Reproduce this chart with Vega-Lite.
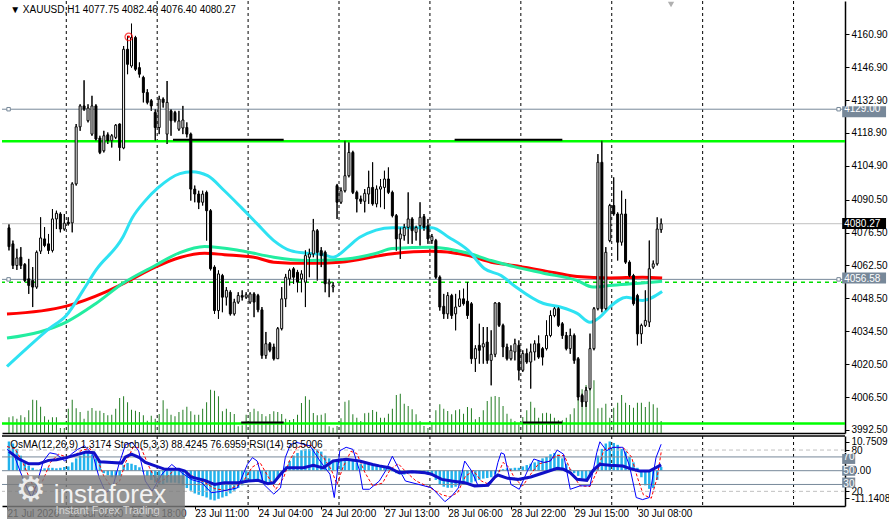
{
  "$schema": "https://vega.github.io/schema/vega-lite/v6.json",
  "description": "XAUUSD H1 candlestick chart with moving averages, volume and OsMA/Stoch/RSI sub-window.",
  "padding": 0,
  "background": "white",
  "spacing": 0,
  "config": {"view": {"stroke": null}, "font": "Liberation Sans", "text": {"font": "Liberation Sans"}},
  "datasets": {
    "c": [
      {"i":0,"o":4078.5,"h":4080.0,"l":4068.9,"c":4070.5,"v":392,"m":10.7},
      {"i":1,"o":4071.7,"h":4073.1,"l":4061.0,"c":4062.5,"v":418,"m":10.0},
      {"i":2,"o":4062.5,"h":4069.6,"l":4060.6,"c":4065.7,"v":358,"m":8.0},
      {"i":3,"o":4066.0,"h":4070.3,"l":4061.0,"c":4062.5,"v":442,"m":5.5},
      {"i":4,"o":4062.9,"h":4063.5,"l":4055.4,"c":4056.1,"v":392,"m":3.0},
      {"i":5,"o":4056.8,"h":4065.3,"l":4050.4,"c":4054.0,"v":568,"m":1.8},
      {"i":6,"o":4056.1,"h":4061.8,"l":4044.8,"c":4053.3,"v":832,"m":1.0},
      {"i":7,"o":4053.3,"h":4068.8,"l":4052.6,"c":4068.1,"v":818,"m":0.3},
      {"i":8,"o":4068.6,"h":4083.0,"l":4067.4,"c":4074.2,"v":658,"m":0.5},
      {"i":9,"o":4073.8,"h":4078.8,"l":4070.3,"c":4071.0,"v":418,"m":0.8},
      {"i":10,"o":4071.7,"h":4075.9,"l":4067.4,"c":4068.9,"v":332,"m":1.0},
      {"i":11,"o":4068.9,"h":4086.5,"l":4068.1,"c":4082.3,"v":392,"m":1.0},
      {"i":12,"o":4082.3,"h":4085.8,"l":4078.0,"c":4084.7,"v":392,"m":0.8},
      {"i":13,"o":4084.4,"h":4085.1,"l":4076.6,"c":4078.0,"v":125,"m":1.0},
      {"i":14,"o":4078.0,"h":4084.4,"l":4077.3,"c":4080.5,"v":125,"m":1.3},
      {"i":15,"o":4080.9,"h":4083.0,"l":4079.5,"c":4080.2,"v":608,"m":1.5},
      {"i":16,"o":4080.6,"h":4097.9,"l":4076.6,"c":4097.2,"v":832,"m":3.0},
      {"i":17,"o":4097.2,"h":4122.7,"l":4096.5,"c":4121.5,"v":618,"m":4.5},
      {"i":18,"o":4121.5,"h":4131.1,"l":4119.8,"c":4130.4,"v":525,"m":5.5},
      {"i":19,"o":4130.4,"h":4141.3,"l":4128.3,"c":4129.0,"v":358,"m":6.2},
      {"i":20,"o":4124.1,"h":4131.1,"l":4123.4,"c":4129.5,"v":558,"m":6.5},
      {"i":21,"o":4118.4,"h":4134.7,"l":4117.7,"c":4130.4,"v":625,"m":6.0},
      {"i":22,"o":4130.4,"h":4131.1,"l":4115.6,"c":4116.3,"v":558,"m":4.5},
      {"i":23,"o":4116.7,"h":4117.7,"l":4109.9,"c":4110.6,"v":558,"m":3.0},
      {"i":24,"o":4111.3,"h":4119.8,"l":4110.6,"c":4117.7,"v":500,"m":-1.0},
      {"i":25,"o":4118.1,"h":4119.1,"l":4114.2,"c":4115.6,"v":442,"m":-1.8},
      {"i":26,"o":4115.6,"h":4118.4,"l":4112.7,"c":4117.7,"v":458,"m":-2.5},
      {"i":27,"o":4117.0,"h":4122.7,"l":4116.3,"c":4122.2,"v":608,"m":-2.5},
      {"i":28,"o":4122.7,"h":4122.9,"l":4107.1,"c":4112.7,"v":875,"m":-2.0},
      {"i":29,"o":4112.5,"h":4155.9,"l":4112.0,"c":4154.5,"v":918,"m":2.0},
      {"i":30,"o":4154.5,"h":4160.2,"l":4143.9,"c":4148.1,"v":768,"m":2.8},
      {"i":31,"o":4147.4,"h":4165.4,"l":4146.7,"c":4159.5,"v":582,"m":2.5},
      {"i":32,"o":4159.5,"h":4160.2,"l":4145.3,"c":4146.0,"v":558,"m":2.0},
      {"i":33,"o":4146.7,"h":4148.9,"l":4142.5,"c":4143.9,"v":525,"m":1.2},
      {"i":34,"o":4142.5,"h":4143.2,"l":4131.9,"c":4136.1,"v":442,"m":-0.5},
      {"i":35,"o":4136.1,"h":4137.5,"l":4131.1,"c":4131.9,"v":308,"m":-2.0},
      {"i":36,"o":4132.6,"h":4133.3,"l":4128.3,"c":4130.4,"v":432,"m":-3.5},
      {"i":37,"o":4127.6,"h":4129.0,"l":4115.6,"c":4121.2,"v":358,"m":-4.5},
      {"i":38,"o":4121.2,"h":4134.7,"l":4118.4,"c":4133.3,"v":475,"m":-5.0},
      {"i":39,"o":4133.3,"h":4134.0,"l":4129.7,"c":4131.9,"v":818,"m":-5.0},
      {"i":40,"o":4118.4,"h":4141.0,"l":4114.2,"c":4131.9,"v":608,"m":-4.5},
      {"i":41,"o":4128.3,"h":4129.0,"l":4117.7,"c":4124.1,"v":458,"m":-4.5},
      {"i":42,"o":4127.6,"h":4128.3,"l":4123.4,"c":4124.1,"v":418,"m":-4.5},
      {"i":43,"o":4120.5,"h":4128.3,"l":4119.8,"c":4124.0,"v":525,"m":-4.8},
      {"i":44,"o":4121.0,"h":4130.4,"l":4118.4,"c":4124.4,"v":582,"m":-5.5},
      {"i":45,"o":4121.2,"h":4123.4,"l":4117.0,"c":4118.4,"v":658,"m":-6.5},
      {"i":46,"o":4118.4,"h":4119.0,"l":4090.1,"c":4095.0,"v":542,"m":-7.5},
      {"i":47,"o":4095.0,"h":4096.5,"l":4089.4,"c":4092.9,"v":458,"m":-8.5},
      {"i":48,"o":4092.9,"h":4094.3,"l":4086.5,"c":4089.4,"v":458,"m":-9.0},
      {"i":49,"o":4089.4,"h":4094.3,"l":4088.0,"c":4092.9,"v":608,"m":-9.5},
      {"i":50,"o":4093.6,"h":4094.3,"l":4073.1,"c":4085.8,"v":768,"m":-10.0},
      {"i":51,"o":4085.8,"h":4086.5,"l":4060.4,"c":4061.1,"v":1082,"m":-10.8},
      {"i":52,"o":4061.8,"h":4062.5,"l":4041.9,"c":4043.3,"v":1058,"m":-11.1},
      {"i":53,"o":4043.3,"h":4060.4,"l":4039.8,"c":4058.9,"v":918,"m":-10.5},
      {"i":54,"o":4058.2,"h":4058.9,"l":4042.6,"c":4049.0,"v":542,"m":-10.0},
      {"i":55,"o":4049.0,"h":4053.3,"l":4045.5,"c":4051.9,"v":608,"m":-9.5},
      {"i":56,"o":4051.1,"h":4051.9,"l":4041.2,"c":4041.9,"v":525,"m":-8.5},
      {"i":57,"o":4041.9,"h":4048.3,"l":4041.2,"c":4046.9,"v":475,"m":-7.5},
      {"i":58,"o":4046.9,"h":4051.1,"l":4046.2,"c":4049.7,"v":168,"m":-6.5},
      {"i":59,"o":4049.7,"h":4051.9,"l":4047.6,"c":4049.0,"v":192,"m":-5.5},
      {"i":60,"o":4049.0,"h":4051.1,"l":4048.3,"c":4050.0,"v":458,"m":-4.5},
      {"i":61,"o":4046.9,"h":4051.1,"l":4046.2,"c":4050.4,"v":525,"m":-3.8},
      {"i":62,"o":4050.4,"h":4051.1,"l":4040.5,"c":4046.9,"v":608,"m":-3.5},
      {"i":63,"o":4049.7,"h":4050.4,"l":4042.6,"c":4043.6,"v":542,"m":-3.5},
      {"i":64,"o":4043.6,"h":4044.8,"l":4022.8,"c":4024.2,"v":475,"m":-4.5},
      {"i":65,"o":4024.2,"h":4034.2,"l":4022.8,"c":4029.2,"v":418,"m":-5.0},
      {"i":66,"o":4029.2,"h":4029.9,"l":4025.6,"c":4026.4,"v":475,"m":-4.8},
      {"i":67,"o":4027.8,"h":4029.2,"l":4022.1,"c":4022.8,"v":542,"m":-4.5},
      {"i":68,"o":4022.8,"h":4036.3,"l":4022.8,"c":4035.6,"v":525,"m":-3.0},
      {"i":69,"o":4035.6,"h":4053.3,"l":4034.9,"c":4048.3,"v":475,"m":-1.5},
      {"i":70,"o":4048.3,"h":4058.9,"l":4044.8,"c":4057.5,"v":358,"m":1.5},
      {"i":71,"o":4056.8,"h":4061.1,"l":4054.0,"c":4060.4,"v":325,"m":3.5},
      {"i":72,"o":4061.1,"h":4061.8,"l":4054.7,"c":4057.5,"v":350,"m":5.5},
      {"i":73,"o":4059.6,"h":4060.6,"l":4051.1,"c":4055.4,"v":458,"m":6.5},
      {"i":74,"o":4056.8,"h":4060.4,"l":4051.1,"c":4058.9,"v":750,"m":7.5},
      {"i":75,"o":4055.4,"h":4068.9,"l":4044.8,"c":4066.7,"v":918,"m":8.0},
      {"i":76,"o":4066.0,"h":4069.6,"l":4057.5,"c":4067.4,"v":832,"m":8.0},
      {"i":77,"o":4067.4,"h":4082.3,"l":4066.0,"c":4077.3,"v":500,"m":8.2},
      {"i":78,"o":4077.3,"h":4078.0,"l":4056.1,"c":4068.1,"v":442,"m":7.8},
      {"i":79,"o":4068.8,"h":4070.3,"l":4061.8,"c":4066.7,"v":458,"m":7.0},
      {"i":80,"o":4068.1,"h":4068.8,"l":4051.1,"c":4054.7,"v":492,"m":5.5},
      {"i":81,"o":4054.7,"h":4056.8,"l":4049.0,"c":4055.4,"v":168,"m":4.5},
      {"i":82,"o":4053.3,"h":4055.4,"l":4051.1,"c":4054.0,"v":132,"m":3.5},
      {"i":83,"o":4096.5,"h":4097.2,"l":4082.3,"c":4089.4,"v":175,"m":4.3},
      {"i":84,"o":4089.4,"h":4095.7,"l":4088.7,"c":4094.3,"v":368,"m":4.5},
      {"i":85,"o":4094.3,"h":4115.6,"l":4093.6,"c":4100.7,"v":782,"m":4.0},
      {"i":86,"o":4100.7,"h":4114.9,"l":4100.0,"c":4110.6,"v":818,"m":3.8},
      {"i":87,"o":4110.6,"h":4111.3,"l":4092.9,"c":4093.6,"v":468,"m":3.5},
      {"i":88,"o":4093.6,"h":4094.3,"l":4085.1,"c":4090.8,"v":382,"m":3.0},
      {"i":89,"o":4090.8,"h":4092.2,"l":4088.7,"c":4089.8,"v":300,"m":2.5},
      {"i":90,"o":4089.8,"h":4095.0,"l":4085.1,"c":4093.2,"v":492,"m":2.5},
      {"i":91,"o":4092.9,"h":4102.8,"l":4088.7,"c":4095.7,"v":508,"m":2.8},
      {"i":92,"o":4095.7,"h":4106.4,"l":4088.0,"c":4088.7,"v":575,"m":2.5},
      {"i":93,"o":4088.7,"h":4096.5,"l":4087.3,"c":4095.0,"v":532,"m":2.0},
      {"i":94,"o":4095.0,"h":4099.3,"l":4087.3,"c":4096.0,"v":382,"m":1.8},
      {"i":95,"o":4095.7,"h":4102.8,"l":4086.5,"c":4099.3,"v":382,"m":1.5},
      {"i":96,"o":4099.3,"h":4104.2,"l":4092.9,"c":4093.6,"v":482,"m":0.5},
      {"i":97,"o":4093.6,"h":4094.3,"l":4083.0,"c":4083.7,"v":608,"m":-0.3},
      {"i":98,"o":4083.7,"h":4084.4,"l":4068.8,"c":4073.8,"v":950,"m":-1.0},
      {"i":99,"o":4073.8,"h":4078.7,"l":4065.3,"c":4075.9,"v":982,"m":-1.5},
      {"i":100,"o":4075.2,"h":4080.2,"l":4073.1,"c":4078.7,"v":732,"m":-1.5},
      {"i":101,"o":4078.7,"h":4093.6,"l":4071.7,"c":4082.3,"v":675,"m":-1.2},
      {"i":102,"o":4082.3,"h":4083.0,"l":4071.7,"c":4077.3,"v":592,"m":-1.0},
      {"i":103,"o":4076.6,"h":4079.4,"l":4073.1,"c":4078.7,"v":468,"m":-1.0},
      {"i":104,"o":4079.4,"h":4089.4,"l":4071.0,"c":4083.0,"v":300,"m":-0.8},
      {"i":105,"o":4083.3,"h":4084.4,"l":4077.3,"c":4078.7,"v":175,"m":-1.0},
      {"i":106,"o":4079.4,"h":4082.3,"l":4071.7,"c":4073.8,"v":125,"m":-1.5},
      {"i":107,"o":4073.1,"h":4075.9,"l":4071.7,"c":4074.8,"v":218,"m":-2.0},
      {"i":108,"o":4073.1,"h":4073.8,"l":4056.8,"c":4057.5,"v":568,"m":-3.5},
      {"i":109,"o":4057.5,"h":4058.2,"l":4043.3,"c":4044.8,"v":718,"m":-5.0},
      {"i":110,"o":4045.1,"h":4050.4,"l":4039.8,"c":4041.9,"v":608,"m":-6.0},
      {"i":111,"o":4041.9,"h":4051.1,"l":4039.8,"c":4049.7,"v":550,"m":-6.4},
      {"i":112,"o":4049.7,"h":4050.4,"l":4039.8,"c":4041.2,"v":468,"m":-6.4},
      {"i":113,"o":4041.9,"h":4050.4,"l":4034.9,"c":4044.8,"v":568,"m":-6.0},
      {"i":114,"o":4045.1,"h":4051.9,"l":4044.8,"c":4048.3,"v":592,"m":-5.5},
      {"i":115,"o":4048.3,"h":4052.6,"l":4045.5,"c":4046.2,"v":482,"m":-5.0},
      {"i":116,"o":4047.3,"h":4055.4,"l":4039.8,"c":4041.2,"v":650,"m":-4.8},
      {"i":117,"o":4046.2,"h":4046.9,"l":4020.7,"c":4022.8,"v":618,"m":-4.5},
      {"i":118,"o":4022.8,"h":4028.5,"l":4017.2,"c":4027.1,"v":342,"m":-4.0},
      {"i":119,"o":4028.5,"h":4037.7,"l":4020.7,"c":4026.4,"v":400,"m":-3.5},
      {"i":120,"o":4027.8,"h":4036.3,"l":4020.7,"c":4029.2,"v":568,"m":-3.0},
      {"i":121,"o":4029.9,"h":4036.3,"l":4020.7,"c":4022.1,"v":800,"m":-2.8},
      {"i":122,"o":4022.1,"h":4034.9,"l":4011.5,"c":4024.7,"v":908,"m":-2.5},
      {"i":123,"o":4024.7,"h":4046.9,"l":4023.5,"c":4046.5,"v":925,"m":-1.5},
      {"i":124,"o":4046.5,"h":4046.9,"l":4036.3,"c":4037.0,"v":900,"m":-0.5},
      {"i":125,"o":4037.0,"h":4037.7,"l":4023.5,"c":4027.8,"v":675,"m":0.5},
      {"i":126,"o":4027.8,"h":4029.2,"l":4022.1,"c":4022.8,"v":482,"m":0.8},
      {"i":127,"o":4022.8,"h":4028.5,"l":4022.1,"c":4026.4,"v":358,"m":0.8},
      {"i":128,"o":4025.7,"h":4031.3,"l":4022.1,"c":4029.2,"v":300,"m":1.0},
      {"i":129,"o":4028.5,"h":4030.6,"l":4013.6,"c":4017.9,"v":218,"m":1.0},
      {"i":130,"o":4017.9,"h":4026.4,"l":4017.2,"c":4025.0,"v":400,"m":1.5},
      {"i":131,"o":4025.0,"h":4027.1,"l":4020.7,"c":4021.4,"v":568,"m":2.0},
      {"i":132,"o":4021.4,"h":4029.2,"l":4010.1,"c":4025.7,"v":782,"m":2.5},
      {"i":133,"o":4025.7,"h":4030.6,"l":4022.1,"c":4029.2,"v":632,"m":3.0},
      {"i":134,"o":4029.2,"h":4032.7,"l":4022.8,"c":4023.5,"v":382,"m":3.5},
      {"i":135,"o":4027.1,"h":4027.8,"l":4020.0,"c":4023.5,"v":492,"m":4.5},
      {"i":136,"o":4027.1,"h":4039.1,"l":4026.4,"c":4032.7,"v":508,"m":5.0},
      {"i":137,"o":4032.7,"h":4043.3,"l":4032.0,"c":4041.2,"v":482,"m":6.0},
      {"i":138,"o":4041.2,"h":4044.8,"l":4040.5,"c":4044.1,"v":382,"m":6.5},
      {"i":139,"o":4044.1,"h":4044.8,"l":4036.3,"c":4037.0,"v":318,"m":6.0},
      {"i":140,"o":4037.7,"h":4038.4,"l":4031.3,"c":4032.7,"v":318,"m":4.5},
      {"i":141,"o":4032.7,"h":4034.2,"l":4026.4,"c":4027.1,"v":382,"m":2.5},
      {"i":142,"o":4027.1,"h":4035.6,"l":4024.9,"c":4032.7,"v":468,"m":0.5},
      {"i":143,"o":4032.7,"h":4033.5,"l":4020.7,"c":4022.1,"v":618,"m":-1.0},
      {"i":144,"o":4022.8,"h":4023.5,"l":4005.1,"c":4006.5,"v":842,"m":-2.0},
      {"i":145,"o":4007.2,"h":4007.9,"l":4002.3,"c":4004.4,"v":1092,"m":-3.0},
      {"i":146,"o":4004.4,"h":4010.8,"l":4002.3,"c":4009.4,"v":1200,"m":-3.5},
      {"i":147,"o":4010.1,"h":4033.5,"l":4009.4,"c":4027.1,"v":1342,"m":-2.5},
      {"i":148,"o":4027.1,"h":4044.8,"l":4026.4,"c":4044.1,"v":1318,"m":-0.5},
      {"i":149,"o":4044.1,"h":4109.9,"l":4043.4,"c":4106.4,"v":618,"m":5.5},
      {"i":150,"o":4106.4,"h":4115.6,"l":4042.6,"c":4044.1,"v":632,"m":8.0},
      {"i":151,"o":4044.1,"h":4070.3,"l":4043.4,"c":4068.1,"v":732,"m":10.0},
      {"i":152,"o":4073.1,"h":4088.7,"l":4072.4,"c":4088.0,"v":382,"m":10.75},
      {"i":153,"o":4088.0,"h":4100.0,"l":4083.7,"c":4084.4,"v":632,"m":10.2},
      {"i":154,"o":4084.4,"h":4085.1,"l":4064.6,"c":4072.4,"v":758,"m":9.5},
      {"i":155,"o":4072.4,"h":4094.3,"l":4071.0,"c":4084.4,"v":950,"m":8.0},
      {"i":156,"o":4084.4,"h":4090.8,"l":4063.2,"c":4063.9,"v":758,"m":7.0},
      {"i":157,"o":4063.9,"h":4064.6,"l":4057.5,"c":4058.2,"v":700,"m":5.0},
      {"i":158,"o":4058.2,"h":4058.9,"l":4045.5,"c":4046.2,"v":632,"m":3.0},
      {"i":159,"o":4049.7,"h":4050.4,"l":4028.5,"c":4033.4,"v":758,"m":1.0},
      {"i":160,"o":4033.4,"h":4037.7,"l":4029.2,"c":4037.0,"v":758,"m":-2.5},
      {"i":161,"o":4037.0,"h":4051.9,"l":4036.3,"c":4039.1,"v":650,"m":-5.5},
      {"i":162,"o":4038.4,"h":4073.1,"l":4036.3,"c":4061.1,"v":782,"m":-6.8},
      {"i":163,"o":4061.8,"h":4064.6,"l":4061.1,"c":4063.2,"v":718,"m":-6.5},
      {"i":164,"o":4063.2,"h":4083.0,"l":4062.5,"c":4078.0,"v":632,"m":-3.5},
      {"i":165,"o":4077.75,"h":4082.46,"l":4076.40,"c":4080.27,"v":300,"m":1.3174}
    ],
    "red": [
      {"i":-0.5,"p":4041.8},{"i":14.5,"p":4045.2},{"i":24.5,"p":4051.3},{"i":29.5,"p":4055.3},{"i":37,"p":4061.8},
      {"i":43.25,"p":4065.9},{"i":49.5,"p":4067.7},{"i":54.5,"p":4067.1},{"i":62,"p":4066.0},{"i":67,"p":4063.9},
      {"i":75.25,"p":4063.4},{"i":83.75,"p":4063.9},{"i":97,"p":4067.5},{"i":107,"p":4068.5},{"i":116.25,"p":4066.7},
      {"i":122,"p":4063.9},{"i":127.75,"p":4062.5},{"i":135.25,"p":4060.3},{"i":143.75,"p":4057.8},{"i":152,"p":4057.2},
      {"i":160.25,"p":4057.5},{"i":165.25,"p":4057.2}
    ],
    "grn": [
      {"i":-0.5,"p":4031.6},{"i":7.75,"p":4034.2},{"i":14.5,"p":4038.4},{"i":22,"p":4046.3},{"i":28.75,"p":4054.8},
      {"i":37,"p":4062.5},{"i":43.25,"p":4068.0},{"i":49.5,"p":4070.6},{"i":58.75,"p":4068.8},{"i":67,"p":4066.0},
      {"i":75.25,"p":4064.6},{"i":83.75,"p":4065.0},{"i":92.75,"p":4067.6},{"i":97,"p":4069.7},{"i":107,"p":4070.3},
      {"i":116.25,"p":4067.7},{"i":122,"p":4064.6},{"i":127.75,"p":4062.0},{"i":135.25,"p":4059.2},{"i":143.75,"p":4056.1},
      {"i":147.75,"p":4053.3},{"i":152,"p":4054.0},{"i":160.25,"p":4055.0},{"i":165.25,"p":4055.8}
    ],
    "cyn": [
      {"i":-0.5,"p":4019.5},{"i":4.5,"p":4027.2},{"i":10.25,"p":4035.7},{"i":14.5,"p":4041.2},{"i":18.75,"p":4051.9},
      {"i":22,"p":4060.5},{"i":28.75,"p":4074.4},{"i":31.25,"p":4082.9},{"i":34.5,"p":4090.1},{"i":37.75,"p":4095.6},
      {"i":43.25,"p":4101.6},{"i":46.25,"p":4102.4},{"i":50.25,"p":4100.7},{"i":54.5,"p":4094.3},{"i":58.75,"p":4087.2},
      {"i":62.75,"p":4080.3},{"i":67,"p":4073.1},{"i":71.25,"p":4068.8},{"i":75.25,"p":4067.7},{"i":79.5,"p":4067.1},
      {"i":82,"p":4066.0},{"i":85.75,"p":4070.3},{"i":88.75,"p":4074.5},{"i":97,"p":4078.6},{"i":107,"p":4078.6},
      {"i":111.25,"p":4074.5},{"i":116.25,"p":4068.8},{"i":120.25,"p":4061.2},{"i":124.5,"p":4058.2},{"i":127.75,"p":4054.0},
      {"i":135.25,"p":4046.3},{"i":139.5,"p":4044.8},{"i":143.75,"p":4042.1},{"i":147,"p":4038.3},{"i":149.5,"p":4040.5},
      {"i":152,"p":4044.8},{"i":156.25,"p":4049.0},{"i":160.25,"p":4047.6},{"i":165.25,"p":4051.4}
    ],
    "rsi": [
      {"i":0,"v":78},{"i":2.5,"v":67},{"i":5,"v":60},{"i":7.5,"v":60},{"i":10,"v":65},{"i":12,"v":66},{"i":14.5,"v":69},
      {"i":17,"v":73},{"i":19.5,"v":77},{"i":21.5,"v":76},{"i":23,"v":63},{"i":26,"v":62},{"i":28.5,"v":61},{"i":29.5,"v":70},
      {"i":31,"v":74},{"i":33,"v":69},{"i":34.5,"v":62},{"i":37,"v":57},{"i":39.5,"v":52},{"i":43,"v":52},{"i":44.5,"v":49.5},
      {"i":46,"v":41},{"i":49.5,"v":36},{"i":52,"v":30},{"i":54.5,"v":32.6},{"i":58,"v":32.6},{"i":60.5,"v":35},{"i":63,"v":36},
      {"i":65.5,"v":31},{"i":67,"v":32.6},{"i":68.7,"v":44.7},{"i":70.3,"v":54.4},{"i":74.5,"v":54.4},{"i":77,"v":58},
      {"i":79.5,"v":54},{"i":82,"v":64},{"i":85.3,"v":66.5},{"i":88.7,"v":64},{"i":92,"v":59},{"i":93.7,"v":57},
      {"i":96.2,"v":54.4},{"i":98.7,"v":47},{"i":102,"v":48.6},{"i":105.3,"v":47},{"i":107,"v":44.7},{"i":109.5,"v":37.4},
      {"i":112,"v":35},{"i":115.3,"v":32.6},{"i":117.8,"v":27.7},{"i":121.2,"v":28.7},{"i":122.8,"v":39.9},{"i":123.7,"v":43.7},
      {"i":126.2,"v":38.9},{"i":128.7,"v":37.4},{"i":132,"v":40.8},{"i":135.3,"v":47},{"i":138.7,"v":53.4},{"i":140.3,"v":52},
      {"i":142,"v":47},{"i":143.7,"v":37.4},{"i":146.2,"v":36},{"i":147.8,"v":50.5},{"i":149.5,"v":59.2},{"i":152,"v":57.8},
      {"i":155.3,"v":56.8},{"i":157,"v":53.4},{"i":159.5,"v":49.5},{"i":162,"v":49.5},{"i":163.7,"v":54.4},{"i":165,"v":58.5}
    ],
    "stm": [
      {"i":-0.5,"v":81},{"i":1.2,"v":74},{"i":2.8,"v":49.5},{"i":4.5,"v":25},{"i":5.75,"v":11},{"i":7,"v":30},{"i":8.7,"v":64},
      {"i":10.3,"v":76},{"i":12,"v":74},{"i":14.1,"v":64},{"i":15.75,"v":74},{"i":17.4,"v":81},{"i":19.1,"v":86},{"i":21.2,"v":74},
      {"i":22.8,"v":40},{"i":24.5,"v":18},{"i":26.2,"v":25},{"i":27.8,"v":59},{"i":29.5,"v":88},{"i":31.2,"v":91},{"i":32.8,"v":79},
      {"i":34.5,"v":35},{"i":36.2,"v":20},{"i":38.7,"v":45},{"i":41.2,"v":59},{"i":43.7,"v":47},{"i":46.2,"v":37},{"i":48.7,"v":33},
      {"i":51.2,"v":18},{"i":53.7,"v":20},{"i":57.8,"v":25},{"i":60.3,"v":59},{"i":61.6,"v":69},{"i":62.8,"v":64},{"i":64.5,"v":30},
      {"i":67,"v":16},{"i":68.7,"v":25},{"i":69.9,"v":69},{"i":71.2,"v":88},{"i":72.8,"v":91},{"i":76.2,"v":86},{"i":78.7,"v":64},
      {"i":81.2,"v":45},{"i":82.3,"v":11},{"i":83.7,"v":79},{"i":85.3,"v":84},{"i":87,"v":81},{"i":88.7,"v":50},{"i":89.5,"v":23},
      {"i":91.2,"v":23},{"i":93.7,"v":35},{"i":95.3,"v":50},{"i":97,"v":71},{"i":98.7,"v":52},{"i":100.3,"v":35},{"i":103.7,"v":30},
      {"i":107,"v":25},{"i":110.3,"v":5},{"i":112,"v":13},{"i":113.7,"v":25},{"i":115.3,"v":64},{"i":117,"v":50},{"i":118.7,"v":28},
      {"i":120.3,"v":28},{"i":122.8,"v":40},{"i":123.7,"v":62},{"i":124.5,"v":76},{"i":125.3,"v":74},{"i":127,"v":30},
      {"i":129.1,"v":23},{"i":131.2,"v":50},{"i":132.8,"v":67},{"i":135.3,"v":62},{"i":137,"v":64},{"i":138.7,"v":80},
      {"i":140.3,"v":74},{"i":142,"v":23},{"i":144.5,"v":28},{"i":147,"v":28},{"i":148.7,"v":76},{"i":149.5,"v":92},
      {"i":151.2,"v":79},{"i":152.8,"v":84},{"i":155.3,"v":84},{"i":157,"v":57},{"i":158.7,"v":11},{"i":160.3,"v":8},
      {"i":162,"v":11},{"i":163.7,"v":69},{"i":165,"v":88.4}
    ],
    "sts": [
      {"i":-0.5,"v":85},{"i":1.5,"v":82},{"i":3.5,"v":62},{"i":5.5,"v":35},{"i":7,"v":18},{"i":8.5,"v":35},{"i":10.5,"v":62},
      {"i":12.5,"v":74},{"i":14.5,"v":70},{"i":16.5,"v":72},{"i":18.5,"v":80},{"i":20.5,"v":82},{"i":22.5,"v":65},{"i":24,"v":42},
      {"i":26,"v":26},{"i":28,"v":35},{"i":29.5,"v":62},{"i":31.5,"v":85},{"i":33.5,"v":82},{"i":35.5,"v":55},{"i":37.5,"v":32},
      {"i":39.5,"v":38},{"i":42,"v":52},{"i":44.5,"v":50},{"i":47,"v":40},{"i":49.5,"v":33},{"i":52,"v":24},{"i":55,"v":21},
      {"i":59,"v":32},{"i":61.5,"v":55},{"i":63.5,"v":62},{"i":65.5,"v":42},{"i":67.5,"v":23},{"i":69.5,"v":40},{"i":71,"v":65},
      {"i":73,"v":85},{"i":76.5,"v":87},{"i":79.5,"v":70},{"i":81.5,"v":52},{"i":83,"v":30},{"i":84.5,"v":55},{"i":86.5,"v":78},
      {"i":88,"v":75},{"i":90,"v":48},{"i":92,"v":28},{"i":94.5,"v":32},{"i":96.5,"v":52},{"i":98.5,"v":60},{"i":100.5,"v":48},
      {"i":103,"v":35},{"i":106,"v":27},{"i":109.5,"v":15},{"i":111.5,"v":12},{"i":113.5,"v":18},{"i":115.5,"v":42},{"i":117.5,"v":50},
      {"i":119.5,"v":35},{"i":121.5,"v":30},{"i":123.5,"v":42},{"i":125,"v":62},{"i":126.5,"v":55},{"i":128,"v":38},{"i":130,"v":28},
      {"i":132,"v":45},{"i":134,"v":60},{"i":136.5,"v":63},{"i":138.5,"v":72},{"i":140.5,"v":72},{"i":142.5,"v":45},{"i":144.5,"v":28},
      {"i":147,"v":27},{"i":149,"v":52},{"i":150.5,"v":80},{"i":152.5,"v":84},{"i":155.5,"v":83},{"i":157.5,"v":70},{"i":159,"v":40},
      {"i":160.5,"v":15},{"i":162.5,"v":10},{"i":164,"v":40},{"i":165,"v":76.7}
    ],
    "days": [{"i":14.5},{"i":37.5},{"i":60.5},{"i":83.5},{"i":106.5},{"i":129.5},{"i":152.5},{"i":175.5},{"i":198.5}],
    "seg": [
      {"i":41.5,"j":69.5,"p":4116.0},{"i":112.75,"j":140,"p":4116.0},
      {"i":58.75,"j":69.5,"p":3995.7},{"i":130,"j":140,"p":3995.7}
    ],
    "sq": [
      {"i":-0.1,"p":4129.0},{"i":209.9,"p":4129.0},{"i":-0.1,"p":4056.58},{"i":209.9,"p":4056.58}
    ],
    "box": [
      {"p":4129.0,"t":"4129.00"},{"p":4080.27,"t":"4080.27"},{"p":4056.58,"t":"4056.58"}
    ],
    "lvl": [{"v":70,"t":"70"},{"v":50,"t":"50"},{"v":30,"t":"30"}],
    "one": [{}]
  },
  "vconcat": [
    {
      "width": 843,
      "height": 432,
      "resolve": {"scale": {"y": "independent"}, "axis": {"x": "independent"}},
      "layer": [
        {
          "data": {"name": "days"},
          "mark": {"type": "rule", "color": "black", "strokeDash": [3, 3], "strokeWidth": 1},
          "encoding": {
            "x": {"field": "i", "type": "quantitative", "scale": {"domain": [-0.5, 210.25], "nice": false, "zero": false},
              "axis": {"orient": "bottom", "labels": false, "ticks": false, "domain": true, "domainColor": "black", "domainWidth": 1.5, "grid": false, "title": null}}
          }
        },
        {
          "data": {"name": "c"},
          "mark": {"type": "bar", "size": 1, "color": "#237d23", "orient": "vertical"},
          "encoding": {
            "x": {"field": "i", "type": "quantitative", "scale": {"domain": [-0.5, 210.25], "nice": false, "zero": false}, "axis": null},
            "y": {"field": "v", "type": "quantitative", "scale": {"domain": [0, 10800], "nice": false}, "axis": null}
          }
        },
        {
          "data": {"name": "c"},
          "mark": {"type": "rule", "color": "black", "strokeWidth": 1},
          "encoding": {
            "x": {"field": "i", "type": "quantitative", "scale": {"domain": [-0.5, 210.25], "nice": false, "zero": false}, "axis": null},
            "y": {"field": "l", "type": "quantitative", "scale": {"domain": [3991.2, 4175.05], "nice": false, "zero": false},
              "axis": {"orient": "right", "title": null, "grid": false,
                "values": [3992.5, 4006.5, 4020.5, 4034.5, 4048.5, 4062.5, 4076.5, 4090.5, 4104.9, 4118.9, 4132.9, 4146.9, 4160.9],
                "format": ".2f", "domainColor": "black", "domainWidth": 1.5, "tickColor": "black", "tickSize": 4,
                "labelColor": "black", "labelFontSize": 10, "labelPadding": 2,
                "labelBaseline": "middle", "labelOverlap": false, "labelFlush": false}},
            "y2": {"field": "h"}
          }
        },
        {
          "data": {"name": "one"},
          "mark": {"type": "rule", "color": "#c0c0c0", "strokeWidth": 1},
          "encoding": {"y": {"datum": 4080.27, "type": "quantitative", "scale": {"domain": [3991.2, 4175.05], "nice": false, "zero": false}, "axis": null}}
        },
        {
          "data": {"name": "one"},
          "mark": {"type": "rule", "color": "#778899", "strokeWidth": 1},
          "encoding": {"y": {"datum": 4129.0, "type": "quantitative", "scale": {"domain": [3991.2, 4175.05], "nice": false, "zero": false}, "axis": null}}
        },
        {
          "data": {"name": "one"},
          "mark": {"type": "rule", "color": "#778899", "strokeWidth": 1},
          "encoding": {"y": {"datum": 4056.58, "type": "quantitative", "scale": {"domain": [3991.2, 4175.05], "nice": false, "zero": false}, "axis": null}}
        },
        {
          "data": {"name": "one"},
          "mark": {"type": "rule", "color": "#00dd00", "strokeWidth": 1.5, "strokeDash": [4, 4]},
          "encoding": {"y": {"datum": 4055.4, "type": "quantitative", "scale": {"domain": [3991.2, 4175.05], "nice": false, "zero": false}, "axis": null}}
        },
        {
          "data": {"name": "one"},
          "mark": {"type": "rule", "color": "#00ff00", "strokeWidth": 2.5},
          "encoding": {"y": {"datum": 4115.4, "type": "quantitative", "scale": {"domain": [3991.2, 4175.05], "nice": false, "zero": false}, "axis": null}}
        },
        {
          "data": {"name": "one"},
          "mark": {"type": "rule", "color": "#00ff00", "strokeWidth": 2.5},
          "encoding": {"y": {"datum": 3995.2, "type": "quantitative", "scale": {"domain": [3991.2, 4175.05], "nice": false, "zero": false}, "axis": null}}
        },
        {
          "data": {"name": "red"},
          "mark": {"type": "line", "color": "#ff0000", "strokeWidth": 3, "interpolate": "monotone"},
          "encoding": {
            "x": {"field": "i", "type": "quantitative", "scale": {"domain": [-0.5, 210.25], "nice": false, "zero": false}, "axis": null},
            "y": {"field": "p", "type": "quantitative", "scale": {"domain": [3991.2, 4175.05], "nice": false, "zero": false}, "axis": null}
          }
        },
        {
          "data": {"name": "grn"},
          "mark": {"type": "line", "color": "#22eda0", "strokeWidth": 3, "interpolate": "monotone"},
          "encoding": {
            "x": {"field": "i", "type": "quantitative", "scale": {"domain": [-0.5, 210.25], "nice": false, "zero": false}, "axis": null},
            "y": {"field": "p", "type": "quantitative", "scale": {"domain": [3991.2, 4175.05], "nice": false, "zero": false}, "axis": null}
          }
        },
        {
          "data": {"name": "cyn"},
          "mark": {"type": "line", "color": "#2ee2f2", "strokeWidth": 3, "interpolate": "monotone"},
          "encoding": {
            "x": {"field": "i", "type": "quantitative", "scale": {"domain": [-0.5, 210.25], "nice": false, "zero": false}, "axis": null},
            "y": {"field": "p", "type": "quantitative", "scale": {"domain": [3991.2, 4175.05], "nice": false, "zero": false}, "axis": null}
          }
        },
        {
          "data": {"name": "seg"},
          "mark": {"type": "rule", "color": "black", "strokeWidth": 2},
          "encoding": {
            "x": {"field": "i", "type": "quantitative", "scale": {"domain": [-0.5, 210.25], "nice": false, "zero": false}, "axis": null},
            "x2": {"field": "j"},
            "y": {"field": "p", "type": "quantitative", "scale": {"domain": [3991.2, 4175.05], "nice": false, "zero": false}, "axis": null}
          }
        },
        {
          "data": {"name": "c"},
          "mark": {"type": "rule", "color": "black", "strokeWidth": 1},
          "encoding": {
            "x": {"field": "i", "type": "quantitative", "scale": {"domain": [-0.5, 210.25], "nice": false, "zero": false}, "axis": null},
            "y": {"field": "l", "type": "quantitative", "scale": {"domain": [3991.2, 4175.05], "nice": false, "zero": false}, "axis": null},
            "y2": {"field": "h"}
          }
        },
        {
          "data": {"name": "c"},
          "mark": {"type": "bar", "size": 2, "stroke": "black", "strokeWidth": 1, "orient": "vertical"},
          "encoding": {
            "x": {"field": "i", "type": "quantitative", "scale": {"domain": [-0.5, 210.25], "nice": false, "zero": false}, "axis": null},
            "y": {"field": "o", "type": "quantitative", "scale": {"domain": [3991.2, 4175.05], "nice": false, "zero": false}, "axis": null},
            "y2": {"field": "c"},
            "fill": {"condition": {"test": "datum.c >= datum.o", "value": "white"}, "value": "black"}
          }
        },
        {
          "data": {"name": "one"},
          "mark": {"type": "point", "shape": "circle", "size": 55, "stroke": "#ff0000", "strokeWidth": 1.3, "filled": false},
          "encoding": {
            "x": {"datum": 30.3, "type": "quantitative", "scale": {"domain": [-0.5, 210.25], "nice": false, "zero": false}, "axis": null},
            "y": {"datum": 4159.8, "type": "quantitative", "scale": {"domain": [3991.2, 4175.05], "nice": false, "zero": false}, "axis": null}
          }
        },
        {
          "data": {"name": "one"},
          "mark": {"type": "point", "shape": "circle", "size": 6, "fill": "#ff0000", "filled": true, "opacity": 1},
          "encoding": {
            "x": {"datum": 30.3, "type": "quantitative", "scale": {"domain": [-0.5, 210.25], "nice": false, "zero": false}, "axis": null},
            "y": {"datum": 4159.8, "type": "quantitative", "scale": {"domain": [3991.2, 4175.05], "nice": false, "zero": false}, "axis": null}
          }
        },
        {
          "data": {"name": "sq"},
          "mark": {"type": "point", "shape": "square", "size": 12, "stroke": "#778899", "fill": "white", "filled": true, "strokeWidth": 1, "opacity": 1},
          "encoding": {
            "x": {"field": "i", "type": "quantitative", "scale": {"domain": [-0.5, 210.25], "nice": false, "zero": false}, "axis": null},
            "y": {"field": "p", "type": "quantitative", "scale": {"domain": [3991.2, 4175.05], "nice": false, "zero": false}, "axis": null}
          }
        },
        {
          "data": {"name": "one"},
          "mark": {"type": "point", "shape": "triangle-down", "size": 40, "fill": "#b0b0b0", "filled": true, "opacity": 1},
          "encoding": {
            "x": {"datum": 167.5, "type": "quantitative", "scale": {"domain": [-0.5, 210.25], "nice": false, "zero": false}, "axis": null},
            "y": {"datum": 4173.6, "type": "quantitative", "scale": {"domain": [3991.2, 4175.05], "nice": false, "zero": false}, "axis": null}
          }
        },
        {
          "data": {"name": "one"},
          "mark": {"type": "text", "align": "left", "baseline": "middle", "fontSize": 10, "color": "black",
            "text": "▼ XAUUSD,H1  4077.75 4082.46 4076.40 4080.27"},
          "encoding": {
            "x": {"datum": 0.3, "type": "quantitative", "scale": {"domain": [-0.5, 210.25], "nice": false, "zero": false}, "axis": null},
            "y": {"datum": 4171.2, "type": "quantitative", "scale": {"domain": [3991.2, 4175.05], "nice": false, "zero": false}, "axis": null}
          }
        },
        {
          "data": {"name": "box"},
          "mark": {"type": "bar", "size": 11, "orient": "horizontal"},
          "encoding": {
            "x": {"datum": 210.8, "type": "quantitative", "scale": {"domain": [-0.5, 210.25], "nice": false, "zero": false}, "axis": null},
            "x2": {"datum": 221.9},
            "y": {"field": "p", "type": "quantitative", "scale": {"domain": [3991.2, 4175.05], "nice": false, "zero": false}, "axis": null},
            "fill": {"condition": {"test": "datum.t == '4080.27'", "value": "black"}, "value": "#778899"}
          }
        },
        {
          "data": {"name": "box"},
          "mark": {"type": "text", "align": "left", "baseline": "middle", "fontSize": 10, "color": "white"},
          "encoding": {
            "x": {"datum": 211.3, "type": "quantitative", "scale": {"domain": [-0.5, 210.25], "nice": false, "zero": false}, "axis": null},
            "y": {"field": "p", "type": "quantitative", "scale": {"domain": [3991.2, 4175.05], "nice": false, "zero": false}, "axis": null},
            "text": {"field": "t"}
          }
        }
      ]
    },
    {
      "width": 843,
      "height": 70,
      "resolve": {"scale": {"y": "independent"}, "axis": {"x": "independent"}},
      "layer": [
        {
          "data": {"name": "days"},
          "mark": {"type": "rule", "color": "black", "strokeDash": [3, 3], "strokeWidth": 1},
          "encoding": {
            "x": {"field": "i", "type": "quantitative", "scale": {"domain": [-0.5, 210.25], "nice": false, "zero": false},
              "axis": {"orient": "bottom", "title": null, "grid": false,
                "values": [-0.5, 15, 31, 47, 63, 79, 95, 111, 127, 143, 159],
                "labelExpr": "['21 Jul 2026','22 Jul 02:00','22 Jul 18:00','23 Jul 11:00','24 Jul 04:00','24 Jul 20:00','27 Jul 13:00','28 Jul 06:00','28 Jul 22:00','29 Jul 15:00','30 Jul 08:00'][indexof([-0.5,15,31,47,63,79,95,111,127,143,159], datum.value)]",
                "labelAlign": "left", "labelBaseline": "top", "labelPadding": -1, "labelFontSize": 10, "labelColor": "black",
                "labelOverlap": false, "labelFlush": false,
                "tickSize": 3, "tickColor": "black", "domainColor": "black", "domainWidth": 1.5}}
          }
        },
        {
          "data": {"name": "c"},
          "mark": {"type": "bar", "size": 2.5, "color": "#22b2ec", "orient": "vertical"},
          "encoding": {
            "x": {"field": "i", "type": "quantitative", "scale": {"domain": [-0.5, 210.25], "nice": false, "zero": false}, "axis": null},
            "y": {"field": "m", "type": "quantitative", "scale": {"domain": [-13.15, 12.78], "nice": false}, "axis": null},
            "y2": {"datum": 0}
          }
        },
        {
          "data": {"values": [{"v": 80}, {"v": 20}]},
          "mark": {"type": "rule", "color": "#c0c0c0", "strokeWidth": 1, "strokeDash": [4, 3]},
          "encoding": {"y": {"field": "v", "type": "quantitative", "scale": {"domain": [-1.3, 100.4], "nice": false, "zero": false},
            "axis": {"orient": "right", "title": null, "grid": false,
              "values": [91.7, 80, 50, 20, 10.3],
              "labelExpr": "datum.value > 90 ? '10.7509' : datum.value < 15 ? '-11.1408' : datum.value == 50 ? '0.00' : datum.label",
              "domainColor": "black", "domainWidth": 1.5, "tickColor": "black", "tickSize": 4,
              "labelColor": "black", "labelFontSize": 10, "labelPadding": 2,
              "labelBaseline": "middle", "labelOverlap": false, "labelFlush": false}}}
        },
        {
          "data": {"name": "one"},
          "mark": {"type": "rule", "color": "black", "strokeWidth": 1.5},
          "encoding": {"y": {"datum": 100.4, "type": "quantitative", "scale": {"domain": [-1.3, 100.4], "nice": false, "zero": false}, "axis": null}}
        },
        {
          "data": {"name": "lvl"},
          "mark": {"type": "rule", "color": "#778899", "strokeWidth": 1},
          "encoding": {"y": {"field": "v", "type": "quantitative", "scale": {"domain": [-1.3, 100.4], "nice": false, "zero": false}, "axis": null}}
        },
        {
          "data": {"name": "sts"},
          "mark": {"type": "line", "color": "#ff0000", "strokeWidth": 1, "strokeDash": [3, 2]},
          "encoding": {
            "x": {"field": "i", "type": "quantitative", "scale": {"domain": [-0.5, 210.25], "nice": false, "zero": false}, "axis": null},
            "y": {"field": "v", "type": "quantitative", "scale": {"domain": [-1.3, 100.4], "nice": false, "zero": false}, "axis": null}
          }
        },
        {
          "data": {"name": "stm"},
          "mark": {"type": "line", "color": "#0000ff", "strokeWidth": 1},
          "encoding": {
            "x": {"field": "i", "type": "quantitative", "scale": {"domain": [-0.5, 210.25], "nice": false, "zero": false}, "axis": null},
            "y": {"field": "v", "type": "quantitative", "scale": {"domain": [-1.3, 100.4], "nice": false, "zero": false}, "axis": null}
          }
        },
        {
          "data": {"name": "rsi"},
          "mark": {"type": "line", "color": "#1010c8", "strokeWidth": 3},
          "encoding": {
            "x": {"field": "i", "type": "quantitative", "scale": {"domain": [-0.5, 210.25], "nice": false, "zero": false}, "axis": null},
            "y": {"field": "v", "type": "quantitative", "scale": {"domain": [-1.3, 100.4], "nice": false, "zero": false}, "axis": null}
          }
        },
        {
          "data": {"name": "one"},
          "mark": {"type": "text", "align": "left", "baseline": "middle", "fontSize": 10, "color": "black",
            "text": "OsMA(12,26,9) 1.3174  Stoch(5,3,3) 88.4245 76.6959  RSI(14) 58.5006"},
          "encoding": {
            "x": {"datum": 0.3, "type": "quantitative", "scale": {"domain": [-0.5, 210.25], "nice": false, "zero": false}, "axis": null},
            "y": {"datum": 87.4, "type": "quantitative", "scale": {"domain": [-1.3, 100.4], "nice": false, "zero": false}, "axis": null}
          }
        },
        {
          "data": {"name": "lvl"},
          "mark": {"type": "bar", "size": 10, "orient": "horizontal", "color": "#778899"},
          "encoding": {
            "x": {"datum": 210.8, "type": "quantitative", "scale": {"domain": [-0.5, 210.25], "nice": false, "zero": false}, "axis": null},
            "x2": {"datum": 214.1},
            "y": {"field": "v", "type": "quantitative", "scale": {"domain": [-1.3, 100.4], "nice": false, "zero": false}, "axis": null}
          }
        },
        {
          "data": {"name": "lvl"},
          "mark": {"type": "text", "align": "left", "baseline": "middle", "fontSize": 10, "color": "white"},
          "encoding": {
            "x": {"datum": 211.1, "type": "quantitative", "scale": {"domain": [-0.5, 210.25], "nice": false, "zero": false}, "axis": null},
            "y": {"field": "v", "type": "quantitative", "scale": {"domain": [-1.3, 100.4], "nice": false, "zero": false}, "axis": null},
            "text": {"field": "t"}
          }
        },
        {
          "data": {"name": "one"},
          "mark": {"type": "rect", "fill": "#7c7c7c", "opacity": 0.82},
          "encoding": {
            "x": {"datum": -0.5, "type": "quantitative", "scale": {"domain": [-0.5, 210.25], "nice": false, "zero": false}, "axis": null},
            "x2": {"datum": 44.5},
            "y": {"datum": 43.5, "type": "quantitative", "scale": {"domain": [-1.3, 100.4], "nice": false, "zero": false}, "axis": null},
            "y2": {"datum": -21.0}
          }
        },
        {
          "data": {"name": "one"},
          "mark": {"type": "text", "align": "center", "baseline": "middle", "fontSize": 34, "color": "#ececec", "font": "DejaVu Sans", "text": "⚙"},
          "encoding": {
            "x": {"datum": 5.5, "type": "quantitative", "scale": {"domain": [-0.5, 210.25], "nice": false, "zero": false}, "axis": null},
            "y": {"datum": 20.5, "type": "quantitative", "scale": {"domain": [-1.3, 100.4], "nice": false, "zero": false}, "axis": null}
          }
        },
        {
          "data": {"name": "one"},
          "mark": {"type": "text", "align": "left", "baseline": "alphabetic", "fontSize": 26, "color": "#f2f2f2", "text": "instaforex"},
          "encoding": {
            "x": {"datum": 11.3, "type": "quantitative", "scale": {"domain": [-0.5, 210.25], "nice": false, "zero": false}, "axis": null},
            "y": {"datum": 3.5, "type": "quantitative", "scale": {"domain": [-1.3, 100.4], "nice": false, "zero": false}, "axis": null}
          }
        },
        {
          "data": {"name": "one"},
          "mark": {"type": "text", "align": "left", "baseline": "alphabetic", "fontSize": 11, "color": "#d2d2d2", "text": "Instant Forex Trading"},
          "encoding": {
            "x": {"datum": 11.8, "type": "quantitative", "scale": {"domain": [-0.5, 210.25], "nice": false, "zero": false}, "axis": null},
            "y": {"datum": -13.0, "type": "quantitative", "scale": {"domain": [-1.3, 100.4], "nice": false, "zero": false}, "axis": null}
          }
        }
      ]
    }
  ]
}
